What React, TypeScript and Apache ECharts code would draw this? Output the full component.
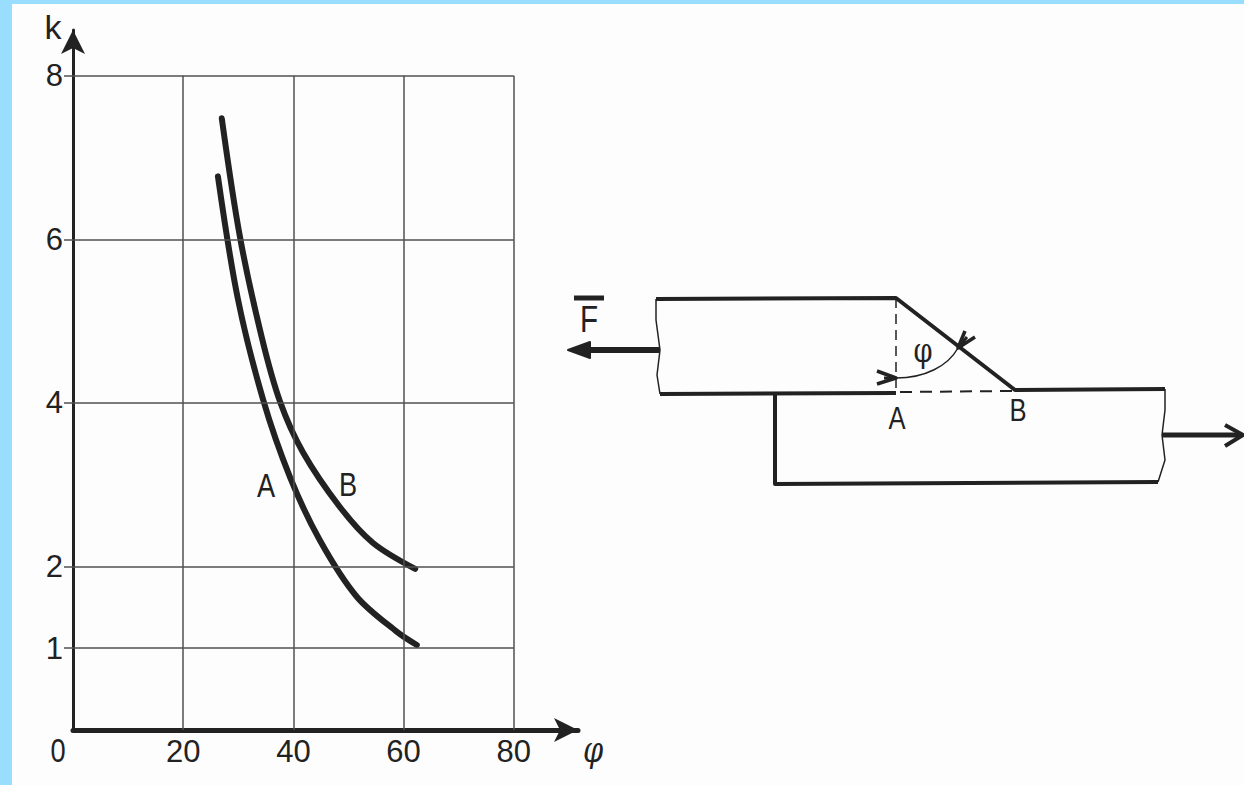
import React, { useEffect, useRef } from "react";
import * as echarts from "echarts";

const xTicks = [20, 40, 60, 80];
const yTicks = [1, 2, 4, 6, 8];
const curveA: [number, number][] = [
  [26.3, 6.77], [29.9, 5.28], [34.5, 4.04], [39.4, 3.09], [44.8, 2.32], [51.5, 1.63], [58.8, 1.2], [62.4, 1.04],
];
const curveB: [number, number][] = [
  [27.0, 7.48], [30.3, 6.03], [34.3, 4.79], [37.6, 4.01], [41.7, 3.4], [48.4, 2.73], [54.4, 2.29], [62.1, 1.97],
];

const INK = "#222222";
const GRID = "#505050";
const FONT = "'Liberation Sans', sans-serif";
const SERIF = "'DejaVu Serif', serif";

const ink = (lineWidth: number, extra: object = {}) => ({ stroke: INK, lineWidth, fill: "none", ...extra });
const poly = (points: number[][], lineWidth: number, extra: object = {}) => ({
  type: "polyline", shape: { points }, style: ink(lineWidth, { lineJoin: "round", ...extra }),
});
const head = (points: number[][]) => ({ type: "polygon", shape: { points }, style: { fill: INK, stroke: INK, lineWidth: 2, lineJoin: "round" } });
const label = (text: string, x: number, y: number, fontSize: number, extra: object = {}) => ({
  type: "text", x, y, scaleX: 0.8,
  style: { text, fontSize, fontFamily: FONT, fill: INK, align: "center", verticalAlign: "middle", ...extra },
});

export default function App() {
  const ref = useRef<HTMLDivElement>(null);
  useEffect(() => {
    const chart = echarts.init(ref.current!, undefined, { renderer: "svg" });
    const gridLines = [
      ...xTicks.map((v) => [{ coord: [v, 0] }, { coord: [v, 8] }]),
      ...yTicks.map((v) => [{ coord: [0, v] }, { coord: [80, v] }]),
    ];
    const curve = (name: string, data: [number, number][], markLine?: object) => ({
      name, type: "line", data, smooth: 0.33, showSymbol: false, silent: true,
      lineStyle: { color: INK, width: 6, cap: "round" }, markLine,
    });
    chart.setOption({
      animation: false,
      backgroundColor: "#fdfdfd",
      grid: { left: 73, top: 30, width: 505, height: 700 },
      xAxis: {
        type: "value", min: 0, max: 91.65, splitLine: { show: false }, axisTick: { show: false },
        axisLine: { onZero: false, symbol: ["none", "arrow"], symbolSize: [18, 24], lineStyle: { color: INK, width: 5 } },
        axisLabel: { customValues: xTicks, fontFamily: FONT, fontSize: 31, color: INK, margin: 6 },
      },
      yAxis: {
        type: "value", min: 0, max: 8.56, splitLine: { show: false },
        axisTick: { customValues: yTicks, length: 9, lineStyle: { color: GRID, width: 1.5 } },
        axisLine: { onZero: false, symbol: ["none", "arrow"], symbolSize: [18, 24], lineStyle: { color: INK, width: 3 } },
        axisLabel: { customValues: yTicks, fontFamily: FONT, fontSize: 31, color: INK, margin: 10 },
        name: "k", nameLocation: "end", nameGap: -14,
        nameTextStyle: { fontFamily: FONT, fontSize: 34, color: INK, padding: [0, 40, 0, 0] },
      },
      series: [
        curve("A", curveA, {
          silent: true, symbol: "none", label: { show: false },
          lineStyle: { color: GRID, width: 1.5, type: "solid" }, data: gridLines,
        }),
        curve("B", curveB),
      ],
      graphic: {
        elements: [
          { type: "rect", shape: { x: 0, y: 0, width: 12, height: 785 }, style: { fill: "#99DDFF" } },
          { type: "rect", shape: { x: 0, y: 0, width: 1244, height: 4 }, style: { fill: "#99DDFF" } },
          label("0", 58, 750, 34),
          label("φ", 593, 750, 36, { fontFamily: SERIF, fontStyle: "italic" }),
          label("A", 266, 485, 34),
          label("B", 348, 484, 34),
          // lap-joint sketch
          poly([[656, 299], [896, 298], [1015, 390], [1165, 389]], 4),
          poly([[656, 299], [656, 320], [660, 350], [657, 375], [660, 394]], 1.5),
          poly([[660, 394], [896, 393]], 4),
          poly([[896, 298], [896, 392]], 1.5, { lineDash: [10, 6] }),
          poly([[900, 392], [1014, 391]], 2, { lineDash: [12, 8] }),
          poly([[775, 394], [775, 484], [1158, 482]], 4),
          poly([[1165, 389], [1165, 410], [1162, 435], [1165, 460], [1158, 482]], 1.5),
          poly([[660, 350], [585, 350]], 6),
          head([[568, 350], [590, 342], [590, 358]]),
          poly([[1162, 435], [1240, 435]], 5),
          poly([[1225, 425], [1243, 435], [1225, 446]], 4),
          { type: "bezierCurve", shape: { x1: 896, y1: 378, cpx1: 925, cpy1: 378, cpx2: 948, cpy2: 366, x2: 958, y2: 348 }, style: ink(1.5) },
          poly([[877, 371], [896, 378], [877, 384]], 3.5),
          poly([[884, 378], [896, 378]], 3),
          poly([[965, 331], [958, 348], [975, 337]], 3.5),
          poly([[958, 348], [967, 337]], 3),
          label("φ", 923, 350, 34, { fontFamily: SERIF }),
          label("A", 897, 418, 32),
          label("B", 1018, 410, 32),
          label("F", 589, 319, 37),
          poly([[574, 298], [604, 298]], 5),
        ],
      },
    });
    return () => chart.dispose();
  }, []);
  return <div ref={ref} style={{ position: "fixed", left: 0, top: 0, width: 1244, height: 785 }} />;
}
